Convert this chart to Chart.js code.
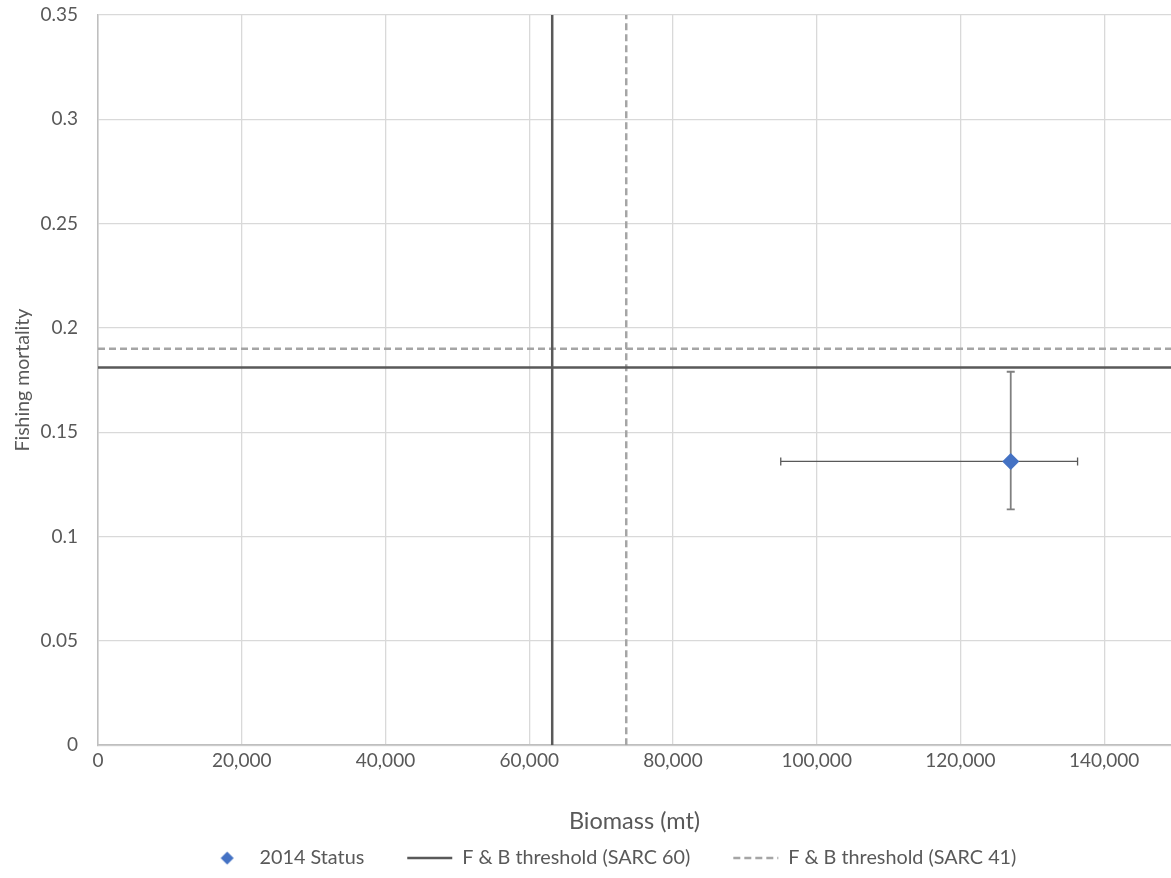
<!DOCTYPE html>
<html>
<head>
<meta charset="utf-8">
<script src="https://cdn.jsdelivr.net/npm/chart.js@4/dist/chart.umd.min.js"></script>
<style>
  html, body { margin: 0; padding: 0; background: #fff; }
  #wrap { width: 1171px; height: 878px; }
</style>
</head>
<body>
<div id="wrap"><canvas id="chart" width="1171" height="878"></canvas></div>
<script>
// 2014 status point with its error ranges
const statusLabel = '2014 Status';
const statusBiomass = [127000];
const statusF = [0.136];
const biomassLow = [95000];
const biomassHigh = [136300];
const fLow = [0.113];
const fHigh = [0.179];

// thresholds: [biomass, F]
const sarc60Label = 'F & B threshold (SARC 60)';
const sarc60 = [63200, 0.181];
const sarc41Label = 'F & B threshold (SARC 41)';
const sarc41 = [73500, 0.190];

// axes
const xMin = 0, xMax = 149300;
const xTicks = [0, 20000, 40000, 60000, 80000, 100000, 120000, 140000];
const yMin = 0, yMax = 0.35;
const yTicks = [0, 0.05, 0.1, 0.15, 0.2, 0.25, 0.3, 0.35];

const txt = '#595959';
const font = 'Lato, "Open Sans", sans-serif';

const errorBars = {
    id: 'errorBars',
    beforeDatasetsDraw(chart) {
        const x = chart.scales.x, y = chart.scales.y;
        const ctx = chart.ctx;
        ctx.save();
        statusBiomass.forEach((b, i) => {
            const px = x.getPixelForValue(b), py = y.getPixelForValue(statusF[i]);
            const xl = x.getPixelForValue(biomassLow[i]), xh = x.getPixelForValue(biomassHigh[i]);
            const yl = y.getPixelForValue(fLow[i]), yh = y.getPixelForValue(fHigh[i]);
            ctx.strokeStyle = '#595959';
            ctx.lineWidth = 1.3;
            ctx.beginPath();
            ctx.moveTo(xl, py); ctx.lineTo(xh, py);
            ctx.moveTo(xl, py - 4); ctx.lineTo(xl, py + 4);
            ctx.moveTo(xh, py - 4); ctx.lineTo(xh, py + 4);
            ctx.stroke();
            ctx.strokeStyle = '#808080';
            ctx.lineWidth = 1.8;
            ctx.beginPath();
            ctx.moveTo(px, yl); ctx.lineTo(px, yh);
            ctx.moveTo(px - 4, yl); ctx.lineTo(px + 4, yl);
            ctx.moveTo(px - 4, yh); ctx.lineTo(px + 4, yh);
            ctx.stroke();
        });
        ctx.restore();
    }
};

// the legend row in the original sits a bit right of the page centre
const legendShift = {
    id: 'legendShift',
    afterLayout(chart) {
        if (chart.legend) chart.legend.left = 50;
    }
};

// legend marker for the status point (diamond centred in a line-wide box)
const diamondIcon = document.createElement('canvas');
diamondIcon.width = 45; diamondIcon.height = 16;
(function () {
    const c = diamondIcon.getContext('2d');
    c.fillStyle = '#4472C4';
    c.beginPath();
    c.moveTo(22.5, 1.5); c.lineTo(29, 8); c.lineTo(22.5, 14.5); c.lineTo(16, 8);
    c.closePath(); c.fill();
})();

const lineSet = (label, pts, color, dash, order) => ({
    label: label,
    data: pts,
    showLine: true, pointRadius: 0, pointStyle: 'line',
    borderColor: color, backgroundColor: color, borderWidth: 2.5,
    borderDash: dash, order: order
});

const ctx = document.getElementById('chart').getContext('2d');
new Chart(ctx, {
    type: 'scatter',
    data: {
        datasets: [
            {
                label: statusLabel,
                data: statusBiomass.map((b, i) => ({ x: b, y: statusF[i] })),
                pointStyle: 'rectRot',
                pointRadius: 8.5,
                pointHoverRadius: 8.5,
                backgroundColor: '#4472C4',
                borderColor: '#4472C4',
                borderWidth: 0,
                order: 0
            },
            lineSet(sarc60Label, [{ x: sarc60[0], y: yMin }, { x: sarc60[0], y: yMax }], '#595959', [], 2),
            lineSet(sarc60Label, [{ x: xMin, y: sarc60[1] }, { x: xMax, y: sarc60[1] }], '#595959', [], 2),
            lineSet(sarc41Label, [{ x: sarc41[0], y: yMin }, { x: sarc41[0], y: yMax }], '#A5A5A5', [7, 4], 3),
            lineSet(sarc41Label, [{ x: xMin, y: sarc41[1] }, { x: xMax, y: sarc41[1] }], '#A5A5A5', [7, 4], 3)
        ]
    },
    options: {
        responsive: false,
        animation: false,
        layout: { autoPadding: false, padding: { top: 15, right: 0, left: 0, bottom: 0 } },
        plugins: {
            tooltip: { enabled: false },
            legend: {
                position: 'bottom',
                labels: {
                    usePointStyle: true,
                    pointStyleWidth: 45,
                    padding: 43,
                    color: txt,
                    font: { family: font, size: 19.8 },
                    filter: (item) => [0, 1, 3].includes(item.datasetIndex),
                    generateLabels(chart) {
                        const items = Chart.defaults.plugins.legend.labels.generateLabels(chart);
                        items.forEach(it => {
                            const ds = chart.data.datasets[it.datasetIndex];
                            if (it.datasetIndex === 0) {
                                it.pointStyle = diamondIcon;
                            } else {
                                it.lineWidth = 2.5;
                                it.strokeStyle = ds.borderColor;
                                it.lineDash = ds.borderDash;
                            }
                        });
                        return items;
                    }
                }
            }
        },
        scales: {
            x: {
                type: 'linear',
                min: xMin, max: xMax,
                afterFit(s) { s.height = 60; s.paddingLeft = 0; s.paddingRight = 0; },
                afterBuildTicks(s) { s.ticks = xTicks.map(v => ({ value: v })); },
                ticks: {
                    color: txt, font: { family: font, size: 19 }, padding: 4,
                    maxRotation: 0, autoSkip: false,
                    callback: v => v.toLocaleString('en-US')
                },
                grid: { color: '#D9D9D9', lineWidth: 1.3, drawTicks: false },
                border: { color: '#BFBFBF', width: 1.5 },
                title: {
                    display: true, text: 'Biomass (mt)', color: txt,
                    font: { family: font, size: 23.5 }, padding: { top: 0, bottom: -30 }
                }
            },
            y: {
                type: 'linear',
                min: yMin, max: yMax,
                afterFit(s) { s.width = 98; s.paddingTop = 0; s.paddingBottom = 0; },
                afterBuildTicks(s) { s.ticks = yTicks.map(v => ({ value: v })); },
                ticks: {
                    color: txt, font: { family: font, size: 19 }, padding: 20,
                    autoSkip: false,
                    callback: v => String(+v.toFixed(2))
                },
                grid: { color: '#D9D9D9', lineWidth: 1.3, drawTicks: false },
                border: { color: '#BFBFBF', width: 1.5 },
                title: {
                    display: true, text: 'Fishing mortality', color: txt,
                    font: { family: font, size: 19.5 }, padding: { top: 11, bottom: 0 }
                }
            }
        }
    },
    plugins: [errorBars, legendShift]
});
</script>
</body>
</html>
